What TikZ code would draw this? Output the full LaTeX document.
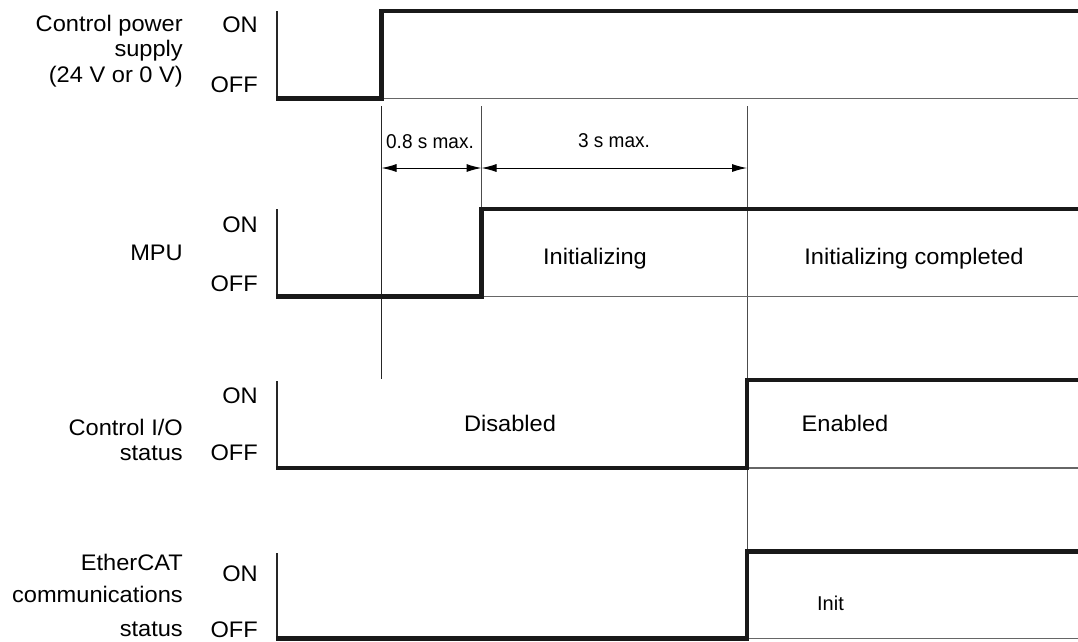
\documentclass[tikz,border=0pt]{standalone}
\usepackage{fontspec}
\setmainfont{Liberation Sans}[FakeStretch=1.05]
\newfontfamily\dimfont{Liberation Sans}[FakeStretch=0.95]
\newfontfamily\initfont{Liberation Sans}
\usetikzlibrary{arrows.meta}
\begin{document}
\begin{tikzpicture}[x=1pt,y=-1pt,
  sig/.style={line width=4.5pt, draw=black!90, line join=miter},
  framel/.style={line width=2pt, draw=black!85},
  baseln/.style={line width=1.4pt, draw=black!60},
  guide/.style={line width=1pt, draw=black!70},
  dimln/.style={line width=1pt, draw=black, {Latex[length=15pt,width=8pt]}-{Latex[length=15pt,width=8pt]}},
  lbl/.style={anchor=base east, inner sep=0pt, font=\fontsize{22.5}{25}\selectfont},
  txt/.style={anchor=base, inner sep=0pt, font=\fontsize{22.5}{25}\selectfont},
  dimtxt/.style={anchor=base, inner sep=0pt, font=\dimfont\fontsize{20}{25}\selectfont},
  inittxt/.style={anchor=base, inner sep=0pt, font=\initfont\fontsize{20}{24}\selectfont}]
\useasboundingbox (0,0) rectangle (1078,641);

% Row 1: control power supply
\draw[baseln] (277,98.5) -- (1078,98.5);
\draw[framel] (277,98.5) -- (277,11);
\draw[sig] (276,98.5) -- (381.5,98.5) -- (381.5,11) -- (1078,11);
\node[lbl] (cp1) at (183,31) {Control power};
\node[lbl] (cp2) at (183,56.5) {supply};
\node[lbl] (cp3) at (183,82) {(24 V or 0 V)};
\node[lbl] (cpon) at (258,32) {ON};
\node[lbl] (cpoff) at (258,92) {OFF};

% guides and dimensions
\coordinate (g1t) at (381.5,106); \coordinate (g1b) at (381.5,379);
\coordinate (g2t) at (481.5,106); \coordinate (g2b) at (481.5,209);
\coordinate (g3t) at (747,106);   \coordinate (g3b) at (747,551);
\draw[guide, draw=black!85] (g1t) -- (g1b);
\draw[guide] (g2t) -- (g2b);
\draw[guide] (g3t) -- (g3b);
\coordinate (d1) at (381.5,168);
\coordinate (d2) at (481.5,168);
\coordinate (d3) at (747,168);
\draw[dimln] (d1) -- (d2);
\draw[dimln] (d2) -- (d3);
\node[dimtxt] (t08) at (430,148) {0.8 s max.};
\node[dimtxt] (t3) at (614,147) {3 s max.};

% Row 2: MPU
\draw[baseln] (277,296.5) -- (1078,296.5);
\draw[framel] (277,296.5) -- (277,209);
\draw[sig] (276,296.5) -- (481.5,296.5) -- (481.5,209) -- (1078,209);
\node[lbl] (mpu) at (183,260) {MPU};
\node[lbl] (mpuon) at (258,232) {ON};
\node[lbl] (mpuoff) at (258,291) {OFF};
\node[txt] (init1) at (595,264) {Initializing};
\node[txt] (init2) at (914,264) {Initializing completed};

% Row 3: Control I/O status
\draw[baseln] (277,468) -- (1078,468);
\draw[framel] (277,468) -- (277,381);
\draw[sig] (276,468) -- (747,468) -- (747,380) -- (1078,380);
\node[lbl] (cio1) at (183,435) {Control I/O};
\node[lbl] (cio2) at (183,460) {status};
\node[lbl] (cioon) at (258,403) {ON};
\node[lbl] (ciooff) at (258,460) {OFF};
\node[txt] (dis) at (510,431) {Disabled};
\node[txt] (en) at (845,431) {Enabled};

% Row 4: EtherCAT communications status
\draw[baseln] (277,638.5) -- (1078,638.5);
\draw[framel] (277,638.5) -- (277,553);
\draw[sig] (276,638.5) -- (747,638.5) -- (747,551.5) -- (1078,551.5);
\node[lbl] (ec1) at (183,570) {EtherCAT};
\node[lbl] (ec2) at (183,602) {communications};
\node[lbl] (ec3) at (183,636) {status};
\node[lbl] (econ) at (258,581) {ON};
\node[lbl] (ecoff) at (258,637) {OFF};
\node[inittxt] (initst) at (830.5,610) {Init};
\end{tikzpicture}
\end{document}
